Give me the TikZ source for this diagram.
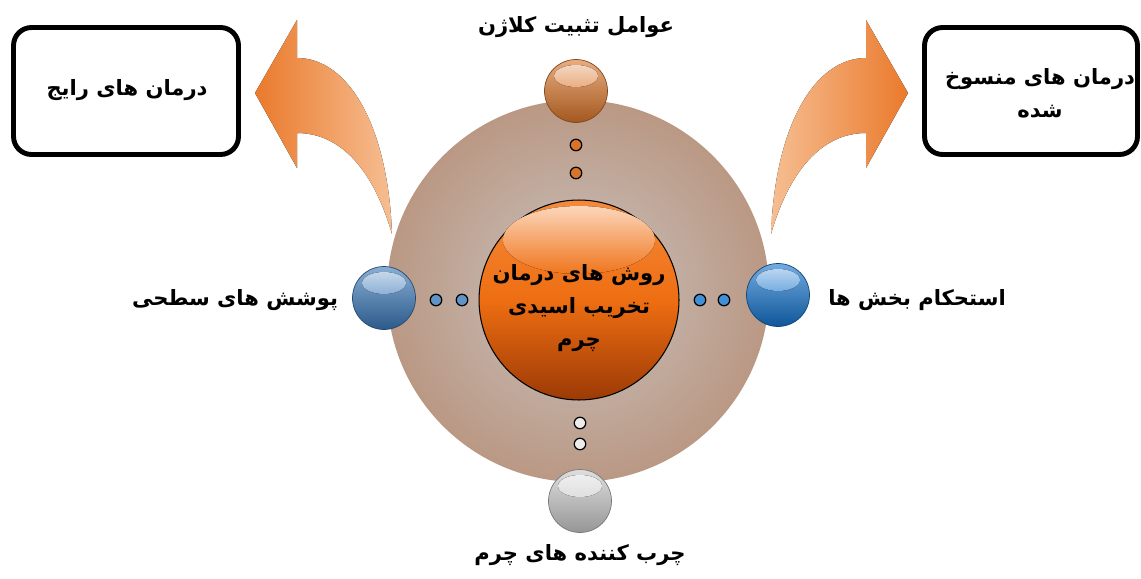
\documentclass[tikz,border=0pt]{standalone}
\usepackage{fontspec}
\newfontfamily\fa[Script=Arabic]{DejaVu Sans}
\TeXXeTstate=1
\definecolor{ringin}{HTML}{C9C3BF}
\definecolor{ringout}{HTML}{BA9884}
\definecolor{arrdark}{HTML}{EA7A2C}
\definecolor{arrlight}{HTML}{F6BE92}
\definecolor{orcore}{HTML}{EE6E12}
\definecolor{ortop}{HTML}{F58A3A}
\definecolor{ordark}{HTML}{9C3A06}
\definecolor{topball}{HTML}{D9752A}
\definecolor{lball}{HTML}{3A78B8}
\definecolor{rball}{HTML}{1473CC}
\definecolor{bball}{HTML}{C8C8C8}
\newcommand\gball[4]{%
  \node[circle, minimum size=1.26cm, inner sep=0, top color=#4!60!white, bottom color=#4!75!black, draw=#4!60!black, line width=0.4pt] (#1) at (#2,#3) {};
  \fill[top color=white!70!#4, bottom color=#4!58!white] (#2,#3-15) ellipse [x radius=22, y radius=11];
}
\begin{document}
\begin{tikzpicture}[x=0.02cm,y=-0.02cm,
  lbl/.style={font=\fa\bfseries\fontsize{12}{19}\selectfont, inner sep=0, align=center},
  dot/.style={circle, draw=black, line width=0.7pt, minimum size=0.23cm, inner sep=0},
  box/.style={draw=black, line width=2.8pt, rounded corners=0.36cm, fill=white, inner sep=0}]
\useasboundingbox (0,0) rectangle (1141,578);
% boxes
\node[box, minimum width=4.5cm, minimum height=2.54cm] (lbox) at (126,91) {};
\node[box, minimum width=4.26cm, minimum height=2.54cm] (rbox) at (1031,91) {};
\node[lbl] (ltxt) at (127,90) {\beginR درمان های رایج\endR};
\node[lbl] (rtxt) at (1040,93) {\beginR درمان های منسوخ\endR\\\beginR شده\endR};
% curved arrows
\fill[left color=arrdark, right color=arrlight] (255,93) -- (297,20) -- (297,58) .. controls (348,58) and (388,125) .. (392,234) .. controls (374,172) and (342,133) .. (297,133) -- (297,168) -- cycle;
\fill[left color=arrlight, right color=arrdark] (908,93) -- (866,20) -- (866,58) .. controls (815,58) and (775,125) .. (771,234) .. controls (789,172) and (821,133) .. (866,133) -- (866,168) -- cycle;
% ring
\node[circle, minimum size=7.64cm, inner sep=0, shading=radial, inner color=ringin, outer color=ringout] (ring) at (578,291) {};
% center
\node[circle, minimum size=4.0cm, inner sep=0, draw=black, line width=0.6pt, top color=ortop, bottom color=ordark, middle color=orcore] (core) at (579,300) {};
\fill[top color=white!65!ortop, bottom color=orcore!75!ortop] (579,240) ellipse [x radius=76, y radius=34];
\node[lbl] (ctxt) at (579,308) {\beginR روش های درمان\endR\\\beginR تخریب اسیدی\endR\\\beginR چرم\endR};
% dots
\node[dot, fill=topball] (t1) at (576,145) {};
\node[dot, fill=topball] (t2) at (576,173) {};
\node[dot, fill=gray!15] (b1) at (580,423) {};
\node[dot, fill=gray!15] (b2) at (580,444) {};
\node[dot, fill=lball!80!white] (l1) at (436,300) {};
\node[dot, fill=lball!80!white] (l2) at (462,300) {};
\node[dot, fill=rball!80!white] (r1) at (700,300) {};
\node[dot, fill=rball!80!white] (r2) at (724,300) {};
% spheres
\gball{tball}{576}{91}{topball}
\gball{lsph}{384}{298}{lball}
\gball{rsph}{778}{295}{rball}
\gball{bsph}{580}{501}{bball}
% labels
\node[lbl] (ttxt) at (576,27) {\beginR عوامل تثبیت کلاژن\endR};
\node[lbl] (btxt) at (580,555) {\beginR چرب کننده های چرم\endR};
\node[lbl] (lt) at (235,300) {\beginR پوشش های سطحی\endR};
\node[lbl] (rt) at (917,300) {\beginR استحکام بخش ها\endR};
\end{tikzpicture}
\end{document}
